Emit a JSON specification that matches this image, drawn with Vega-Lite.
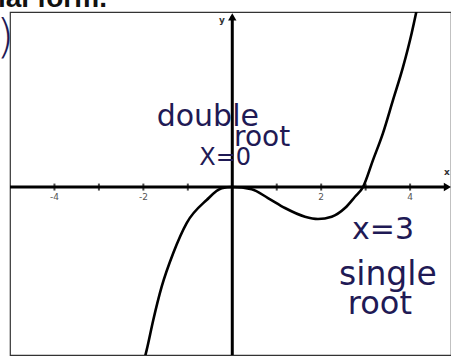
{
  "$schema": "https://vega.github.io/schema/vega-lite/v6.json",
  "width": 441,
  "height": 343,
  "autosize": {"type": "none"},
  "padding": {"left": 10, "top": 12, "right": 0, "bottom": 5},
  "background": "white",
  "config": {
    "view": {"stroke": "#333333", "strokeWidth": 1.2},
    "text": {"font": "DejaVu Sans"}
  },
  "datasets": {
    "curve": [
      {"x": -1.963, "y": -3.82},
      {"x": -1.925, "y": -3.666},
      {"x": -1.777, "y": -2.991},
      {"x": -1.588, "y": -2.242},
      {"x": -1.327, "y": -1.484},
      {"x": -1.026, "y": -0.81},
      {"x": -0.576, "y": -0.292},
      {"x": -0.238, "y": -0.029},
      {"x": 0, "y": 0},
      {"x": 0.436, "y": -0.05},
      {"x": 0.803, "y": -0.247},
      {"x": 1.185, "y": -0.472},
      {"x": 1.635, "y": -0.668},
      {"x": 1.928, "y": -0.72},
      {"x": 2.236, "y": -0.668},
      {"x": 2.535, "y": -0.472},
      {"x": 2.76, "y": -0.218},
      {"x": 2.94, "y": 0},
      {"x": 3.165, "y": 0.607},
      {"x": 3.39, "y": 1.215},
      {"x": 3.615, "y": 1.957},
      {"x": 3.84, "y": 2.699},
      {"x": 4.035, "y": 3.463},
      {"x": 4.148, "y": 3.98}
    ],
    "axes": [
      {"x": -5, "y": 0, "x2": 4.85, "y2": 0},
      {"x": 0, "y": -3.78, "x2": 0, "y2": 3.85}
    ],
    "ticks": [
      {"x": -4, "y": 0}, {"x": -3, "y": 0}, {"x": -2, "y": 0}, {"x": -1, "y": 0},
      {"x": 1, "y": 0}, {"x": 2, "y": 0}, {"x": 3, "y": 0}, {"x": 4, "y": 0}
    ],
    "tickLabels": [
      {"x": -4, "y": -0.22, "label": "-4"},
      {"x": -2, "y": -0.22, "label": "-2"},
      {"x": 2, "y": -0.22, "label": "2"},
      {"x": 4, "y": -0.22, "label": "4"}
    ],
    "axisNames": [
      {"x": 4.83, "y": 0.34, "label": "x"},
      {"x": -0.23, "y": 3.76, "label": "y"}
    ],
    "heading": [
      {"x": -5.27, "y": 4.05, "label": "ial form."}
    ],
    "paren": [
      {"x": -5.11, "y": 3.35, "label": ")"}
    ],
    "notes": [
      {"x": -0.55, "y": 1.58, "label": "double", "size": 30},
      {"x": 0.67, "y": 1.1, "label": "root", "size": 28},
      {"x": -0.16, "y": 0.65, "label": "X=0", "size": 24},
      {"x": 3.39, "y": -0.97, "label": "x=3", "size": 30},
      {"x": 3.5, "y": -1.98, "label": "single", "size": 33},
      {"x": 3.32, "y": -2.63, "label": "root", "size": 32}
    ]
  },
  "encoding": {
    "x": {"field": "x", "type": "quantitative", "axis": null,
          "scale": {"domain": [-5, 4.92], "nice": false, "zero": false}},
    "y": {"field": "y", "type": "quantitative", "axis": null,
          "scale": {"domain": [-3.78, 3.94], "nice": false, "zero": false}}
  },
  "layer": [
    {
      "data": {"name": "axes"},
      "mark": {"type": "rule", "color": "#000000", "strokeWidth": 3},
      "encoding": {
        "x2": {"field": "x2"},
        "y2": {"field": "y2"}
      }
    },
    {
      "data": {"name": "ticks"},
      "mark": {"type": "tick", "orient": "vertical", "color": "#000000", "size": 7, "thickness": 2}
    },
    {
      "data": {"values": [{"x": 4.84, "y": 0}]},
      "mark": {"type": "point", "shape": "triangle-right", "filled": true, "color": "#000000", "size": 70, "opacity": 1}
    },
    {
      "data": {"values": [{"x": 0, "y": 3.83}]},
      "mark": {"type": "point", "shape": "triangle-up", "filled": true, "color": "#000000", "size": 70, "opacity": 1}
    },
    {
      "data": {"name": "curve"},
      "mark": {"type": "line", "color": "#000000", "strokeWidth": 2.6, "interpolate": "monotone", "clip": true}
    },
    {
      "data": {"name": "tickLabels"},
      "mark": {"type": "text", "font": "DejaVu Sans", "fontSize": 9, "color": "#555555", "baseline": "middle"},
      "encoding": {"text": {"field": "label"}}
    },
    {
      "data": {"name": "axisNames"},
      "mark": {"type": "text", "font": "DejaVu Sans", "fontSize": 9, "fontWeight": "bold", "color": "#333333", "baseline": "middle"},
      "encoding": {"text": {"field": "label"}}
    },
    {
      "data": {"name": "heading"},
      "mark": {"type": "text", "font": "Liberation Sans", "fontSize": 28, "fontWeight": "bold", "color": "#111111", "align": "left", "baseline": "alphabetic"},
      "encoding": {"text": {"field": "label"}}
    },
    {
      "data": {"name": "paren"},
      "mark": {"type": "text", "font": "DejaVu Sans", "fontSize": 46, "fontWeight": 200, "color": "#1f1a55", "baseline": "middle"},
      "encoding": {"text": {"field": "label"}}
    },
    {
      "data": {"name": "notes"},
      "mark": {"type": "text", "font": "DejaVu Sans", "color": "#1f1a55", "baseline": "middle"},
      "encoding": {
        "text": {"field": "label"},
        "size": {"field": "size", "type": "quantitative", "scale": null}
      }
    }
  ]
}
